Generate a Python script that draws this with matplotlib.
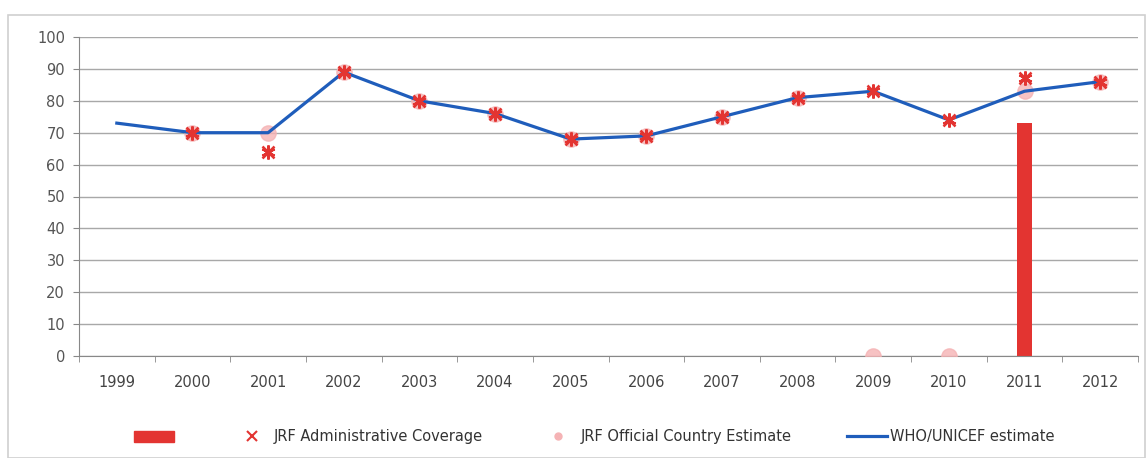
import numpy as np
import matplotlib.pyplot as plt
from matplotlib.patches import Rectangle, Patch
from matplotlib.lines import Line2D

years = ['1999', '2000', '2001', '2002', '2003', '2004', '2005',
         '2006', '2007', '2008', '2009', '2010', '2011', '2012']
who_unicef = [73, 70, 70, 89, 80, 76, 68, 69, 75, 81, 83, 74, 83, 86]
jrf_admin = [np.nan, 70, 64, 89, 80, 76, 68, 69, 75, 81, 83, 74, 87, 86]
jrf_official = [np.nan, 70, 70, 89, 80, 76, 68, 69, 75, 81, 0, 0, 83, 86]
bar_values = [0, 0, 0, 0, 0, 0, 0, 0, 0, 0, 0, 0, 73, 0]

red = '#e33431'
pink = '#f5b3b5'
blue = '#1f5dbb'

fig = plt.figure(figsize=(11.47, 4.58), dpi=100)
fig.patches.append(Rectangle((8 / 1147, 0), 1137 / 1147, 443 / 458,
                             transform=fig.transFigure, fill=False,
                             edgecolor='#d0d0d0', linewidth=1.2))
ax = fig.add_axes([79 / 1147, 102 / 458, 1059 / 1147, 319 / 458])

x = np.arange(len(years))
ax.bar(x, bar_values, width=0.19, color=red, zorder=2)
ax.plot(x, jrf_official, linestyle='none', marker='o', markersize=11,
        color=pink, alpha=0.8, zorder=3)
ax.plot(x, who_unicef, color=blue, linewidth=2.3, zorder=4)
ax.plot(x, jrf_admin, linestyle='none', marker=(6, 2, 0), markersize=10,
        markeredgewidth=1.8, color=red, zorder=5)
ax.plot(x, jrf_admin, linestyle='none', marker='x', markersize=8,
        markeredgewidth=1.8, color=red, zorder=5)

ax.set_xlim(-0.5, len(years) - 0.5)
ax.set_ylim(0, 100)
ax.set_yticks(range(0, 101, 10))
ax.set_xticks(x)
ax.set_xticklabels(years)
ax.set_xticks(np.arange(-0.5, len(years)), minor=True)
ax.tick_params(axis='x', which='major', length=0, pad=14, labelsize=10.5, labelcolor='#444444')
ax.tick_params(axis='x', which='minor', length=4, color='#888888')
ax.tick_params(axis='y', length=4, color='#888888', labelsize=10.5, labelcolor='#555555', pad=6)
ax.grid(axis='y', color='#a8a8a8', linewidth=1)
ax.set_axisbelow(True)
for s in ['top', 'right']:
    ax.spines[s].set_visible(False)
ax.spines['left'].set_color('#888888')
ax.spines['bottom'].set_color('#888888')

handles = [
    Patch(color=red),
    Line2D([], [], linestyle='none', marker='x', color=red, markersize=7, markeredgewidth=1.5),
    Line2D([], [], linestyle='none', marker='o', color=pink, markersize=5),
    Line2D([], [], color=blue, linewidth=2.3),
]
labels = ['', 'JRF Administrative Coverage', 'JRF Official Country Estimate', 'WHO/UNICEF estimate']
fig.legend(handles, labels, loc='center', bbox_to_anchor=(0.518, 21 / 458), ncol=4,
           frameon=False, fontsize=10.5, labelcolor='#333333', columnspacing=3.8,
           handlelength=2.7, handletextpad=0.2)

fig.savefig('out.png', dpi=100)
